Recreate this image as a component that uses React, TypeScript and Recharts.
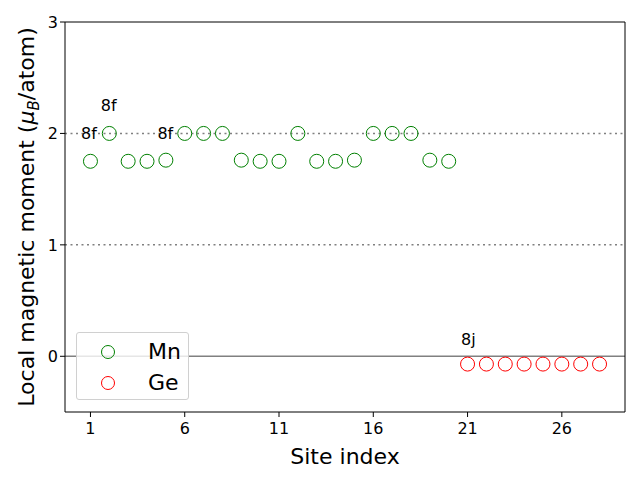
import React from "react";
import {
  ScatterChart,
  Scatter,
  XAxis,
  YAxis,
  ReferenceLine,
  Legend,
} from "recharts";

const mnSites = [1, 2, 3, 4, 5, 6, 7, 8, 9, 10, 11, 12, 13, 14, 15, 16, 17, 18, 19, 20];
const mnMoments = [
  1.75, 2.0, 1.75, 1.75, 1.76, 2.0, 2.0, 2.0, 1.76, 1.75, 1.75, 2.0, 1.75, 1.75, 1.76,
  2.0, 2.0, 2.0, 1.76, 1.75,
];
const geSites = [21, 22, 23, 24, 25, 26, 27, 28];
const geMoments = [-0.07, -0.07, -0.07, -0.07, -0.07, -0.07, -0.07, -0.07];

const labelX = [0.5, 1.55, 4.55, 20.65];
const labelY = [1.95, 2.2, 1.95, 0.1];
const labelText = ["8f", "8f", "8f", "8j"];

const xTicks = [1, 6, 11, 16, 21, 26];
const yTicks = [0, 1, 2, 3];

const FONT = "DejaVu Sans, sans-serif";

const mnData = mnSites.map((site, i) => ({ site, moment: mnMoments[i] }));
const geData = geSites.map((site, i) => ({ site, moment: geMoments[i] }));
const labelData = labelText.map((text, i) => ({ site: labelX[i], moment: labelY[i], text }));

const ring = (color: string) => (props: any) =>
  <circle cx={props.cx} cy={props.cy} r={7} fill="none" stroke={color} strokeWidth={1} />;

const SiteLabel = (props: any) => (
  <text x={props.cx} y={props.cy} fontFamily={FONT} fontSize={16} fill="#000">
    {props.payload.text}
  </text>
);

const YLabel = (props: any) => {
  const vb = props.viewBox || { y: 22, height: 390 };
  const cy = vb.y + vb.height / 2;
  return (
    <text
      x={0}
      y={0}
      transform={`translate(34, ${cy}) rotate(-90)`}
      textAnchor="middle"
      fontFamily={FONT}
      fontSize={22}
      fill="#000"
    >
      Local magnetic moment (
      <tspan fontStyle="italic">μ</tspan>
      <tspan fontStyle="italic" fontSize={15} dy={5}>B</tspan>
      <tspan dy={-5}>/atom)</tspan>
    </text>
  );
};

const legendItems = [
  { name: "Mn", color: "green" },
  { name: "Ge", color: "red" },
];

const LegendBox = () => (
  <div
    style={{
      position: "relative",
      width: 111,
      height: 66,
      border: "1px solid #d0d0d0",
      borderRadius: 3,
      background: "rgba(255,255,255,0.8)",
      fontFamily: FONT,
      fontSize: 22,
    }}
  >
    {legendItems.map((item, i) => (
      <div key={item.name} style={{ position: "absolute", left: 0, top: 6 + i * 31, height: 26, display: "flex", alignItems: "center" }}>
        <svg width={50} height={26}>
          <circle cx={31} cy={13} r={6.5} fill="none" stroke={item.color} strokeWidth={1} />
        </svg>
        <span style={{ marginLeft: 21, lineHeight: "26px" }}>{item.name}</span>
      </div>
    ))}
  </div>
);

const tickStyle = { fontFamily: FONT, fontSize: 16, fill: "#000" };

export default function App() {
  return (
    <div style={{ position: "absolute", left: 0, top: 0, width: 640, height: 480, background: "#fff" }}>
      <ScatterChart width={640} height={480} margin={{ top: 22, right: 15, left: 0, bottom: 0 }}>
        <XAxis
          type="number"
          dataKey="site"
          domain={[-0.35, 29.35]}
          ticks={xTicks}
          allowDataOverflow
          height={68}
          stroke="#000"
          tickSize={5}
          tickMargin={6}
          tick={tickStyle}
          tickLine={{ stroke: "#000" }}
          label={{ value: "Site index", position: "insideBottom", offset: 16, style: { fontFamily: FONT, fontSize: 22, fill: "#000" } }}
        />
        <YAxis
          type="number"
          dataKey="moment"
          domain={[-0.5, 3]}
          ticks={yTicks}
          allowDataOverflow
          width={65}
          stroke="#000"
          tickSize={5}
          tick={tickStyle}
          tickLine={{ stroke: "#000" }}
          label={<YLabel />}
        />
        <ReferenceLine y={2} stroke="#808080" strokeWidth={1.5} strokeDasharray="2 3.5" />
        <ReferenceLine y={1} stroke="#808080" strokeWidth={1.5} strokeDasharray="2 3.5" />
        <ReferenceLine y={0} stroke="#808080" strokeWidth={1.5} />
        <ReferenceLine y={3} stroke="#000" strokeWidth={1} />
        <ReferenceLine x={29.35} stroke="#000" strokeWidth={1} />
        <Scatter name="Mn" data={mnData} shape={ring("green")} isAnimationActive={false} />
        <Scatter name="Ge" data={geData} shape={ring("red")} isAnimationActive={false} />
        <Scatter name="labels" data={labelData} shape={SiteLabel} isAnimationActive={false} legendType="none" />
        <Legend
          layout="horizontal"
          verticalAlign="middle"
          content={<LegendBox />}
          wrapperStyle={{ position: "absolute", left: 76, top: 332, width: 113, height: 68 }}
        />
      </ScatterChart>
    </div>
  );
}
